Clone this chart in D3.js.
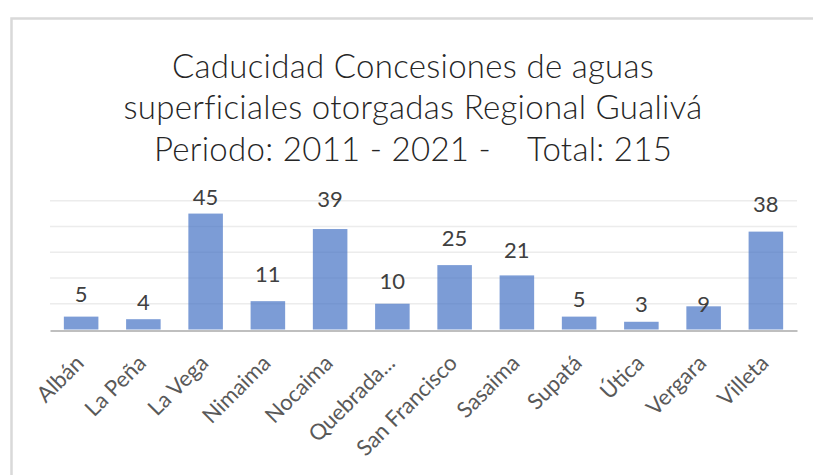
<!DOCTYPE html>
<html>
<head>
<meta charset="utf-8">
<script src="https://cdn.jsdelivr.net/npm/d3@7"></script>
<style>
  html, body { margin: 0; padding: 0; background: #fff; }
  svg { display: block; }
  text { font-family: Lato, "Open Sans", sans-serif; }
</style>
</head>
<body>
<script>
// ---- data ----
const categories = ["Albán", "La Peña", "La Vega", "Nimaima", "Nocaima", "Quebrada...", "San Francisco", "Sasaima", "Supatá", "Útica", "Vergara", "Villeta"];
const values = [5, 4, 45, 11, 39, 10, 25, 21, 5, 3, 9, 38];
// value-label anchors (in data units) as placed in the original chart
const labelAnchor = [10.8, 7.6, 48.3, 18.3, 47.4, 15.7, 32.5, 27.6, 8.6, 6.7, 6.7, 45.5];
const gridTicks = [10, 20, 30, 40, 50];
const titleLines = ["Caducidad Concesiones de aguas", "superficiales otorgadas Regional Gualivá", "Periodo: 2011 - 2021 -    Total: 215"];

// ---- layout ----
const W = 813, H = 475;
const plot = { left: 50, right: 797, top: 200.7, bottom: 329.5 };

const svg = d3.select("body").append("svg").attr("width", W).attr("height", H);
svg.append("rect").attr("width", W).attr("height", H).attr("fill", "#fff");

// chart frame
svg.append("rect")
  .attr("x", 11.5).attr("y", 18.5).attr("width", W + 20).attr("height", H + 20)
  .attr("fill", "none").attr("stroke", "#d9d9d9").attr("stroke-width", 2.5);

// title
const title = svg.append("text")
  .attr("text-anchor", "middle")
  .attr("fill", "#262626")
  .style("font-size", "33px")
  .style("font-weight", 300)
  .style("letter-spacing", "0.3px")
  .style("white-space", "pre")
  .attr("xml:space", "preserve");
titleLines.forEach((t, i) => {
  title.append("tspan").attr("x", 413).attr("y", 78 + i * 41.3).text(t);
});

// scales
const x = d3.scaleBand().domain(categories).range([plot.left, plot.right]).paddingInner(0.445).paddingOuter(0.2225);
const y = d3.scaleLinear().domain([0, 50]).range([plot.bottom, plot.top]);

// gridlines
svg.append("g")
  .selectAll("line").data(gridTicks).join("line")
  .attr("x1", plot.left).attr("x2", plot.right)
  .attr("y1", d => y(d)).attr("y2", d => y(d))
  .attr("stroke", "#ececec").attr("stroke-width", 1.6);

// bars
svg.append("g")
  .selectAll("rect").data(values).join("rect")
  .attr("x", (d, i) => x(categories[i]))
  .attr("width", x.bandwidth())
  .attr("y", d => y(d))
  .attr("height", d => y(0) - y(d))
  .attr("fill", "#4472C4").attr("fill-opacity", 0.7);

// x axis line
const xAxis = d3.axisBottom(x).tickSize(0).tickFormat("");
const gx = svg.append("g").attr("transform", `translate(0,${plot.bottom + 1})`).call(xAxis);
gx.select(".domain").attr("stroke", "#bfbfbf").attr("stroke-width", 2.2);

// category labels
svg.append("g")
  .selectAll("text").data(categories).join("text")
  .attr("transform", d => `translate(${x(d) + x.bandwidth() / 2 + 4},${plot.bottom + 35}) rotate(-45)`)
  .attr("text-anchor", "end")
  .attr("fill", "#595959")
  .style("font-size", "22px")
  .text(d => d);

// value labels
svg.append("g")
  .selectAll("text").data(values).join("text")
  .attr("x", (d, i) => x(categories[i]) + x.bandwidth() / 2)
  .attr("y", (d, i) => y(labelAnchor[i]))
  .attr("text-anchor", "middle")
  .attr("fill", "#404040")
  .style("font-size", "22px")
  .text(d => d);
</script>
</body>
</html>
